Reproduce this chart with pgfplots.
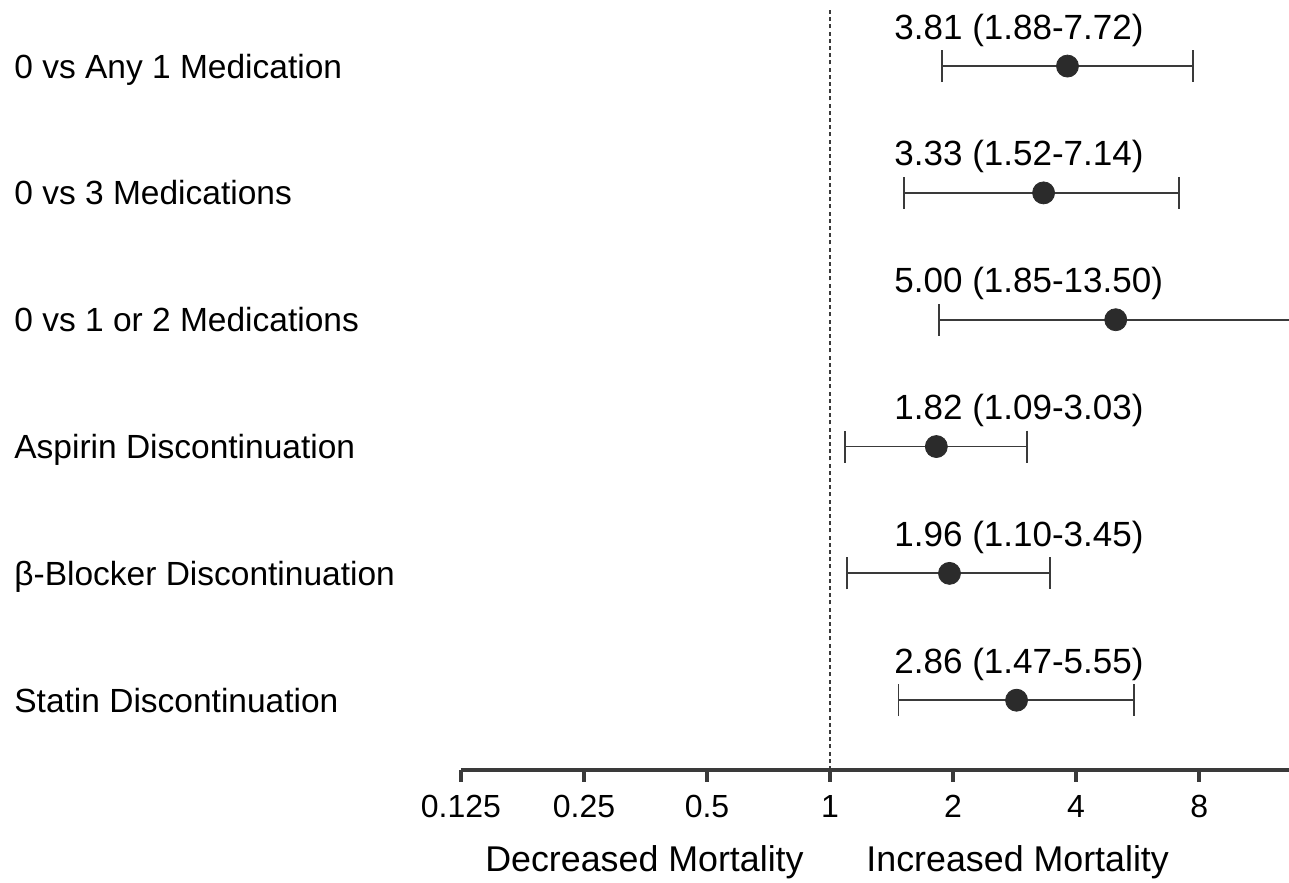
\documentclass[border=0pt]{standalone}
\usepackage{fontspec}
\setmainfont{Liberation Sans}
\usepackage{pgfplots}
\usepackage{pgfplotstable}
\pgfplotsset{compat=1.18}
\definecolor{dk}{HTML}{2B2B2B}
\definecolor{ln}{HTML}{3A3A3A}

% y = row, or = odds ratio, ep/em = distance to upper/lower CI bound
\pgfplotstableread{
y or   lo   hi    ep   em
6 3.81 1.88 7.72  3.91 1.93
5 3.33 1.52 7.14  3.81 1.81
4 5.00 1.85 13.50 8.50 3.15
3 1.82 1.09 3.03  1.21 0.73
2 1.96 1.10 3.45  1.49 0.86
1 2.86 1.47 5.55  2.69 1.39
}\forestdata

\begin{document}
\begin{tikzpicture}
\begin{axis}[
  scale only axis, width=414pt, height=380.5pt,
  xmode=log, log basis x=2,
  xmin=0.125, xmax=13.27, ymin=0.45, ymax=6.45,
  axis x line*=bottom, axis y line=none,
  x axis line style={line width=2.2pt, color=ln},
  tick align=outside,
  major tick length=6pt,
  x tick style={line width=1.9pt, color=ln},
  xtick={0.125,0.25,0.5,1,2,4,8},
  xticklabels={0.125,0.25,0.5,1,2,4,8},
  xticklabel style={font=\fontsize{16}{19}\selectfont, text=black, yshift=-3pt},
  /pgf/number format/assume math mode=true,
  ytick=\empty,
  clip mode=individual,
]
\coordinate (sw) at (rel axis cs:0,0);
\coordinate (ne) at (rel axis cs:1,1);

\addplot[dashed, dash pattern=on 2pt off 1.6pt, line width=0.7pt, color=ln] coordinates {(1,0.45) (1,6.45)};

\addplot[only marks, mark=*, mark size=5.5pt, color=dk,
  error bars/.cd, x dir=both, x explicit,
  error bar style={line width=0.9pt, color=ln},
  error mark options={rotate=90, mark size=8pt, line width=0.9pt, color=ln}]
  table[x=or, y=y, x error plus=ep, x error minus=em]{\forestdata};

\tikzset{ann/.style={anchor=base west, inner sep=0pt, font=\fontsize{17.5}{21}\selectfont}}
\node[ann] at (axis cs:1.434,6.213) {3.81 (1.88-7.72)};
\node[ann] at (axis cs:1.434,5.213) {3.33 (1.52-7.14)};
\node[ann] at (axis cs:1.434,4.213) {5.00 (1.85-13.50)};
\node[ann] at (axis cs:1.434,3.213) {1.82 (1.09-3.03)};
\node[ann] at (axis cs:1.434,2.213) {1.96 (1.10-3.45)};
\node[ann] at (axis cs:1.434,1.213) {2.86 (1.47-5.55)};

\tikzset{lab/.style={anchor=base west, inner sep=0pt, xshift=-223.5pt, yshift=-6pt, font=\fontsize{16.75}{20}\selectfont}}
\node[lab] at (axis cs:0.125,6) {0 vs Any 1 Medication};
\node[lab] at (axis cs:0.125,5) {0 vs 3 Medications};
\node[lab] at (axis cs:0.125,4) {0 vs 1 or 2 Medications};
\node[lab] at (axis cs:0.125,3) {Aspirin Discontinuation};
\node[lab] at (axis cs:0.125,2) {β-Blocker Discontinuation};
\node[lab] at (axis cs:0.125,1) {Statin Discontinuation};

\tikzset{bot/.style={inner sep=0pt, yshift=-51pt, font=\fontsize{17.9}{21}\selectfont}}
\node[bot, anchor=base east, xshift=-13pt] at (axis cs:1,0.45) {Decreased Mortality};
\node[bot, anchor=base west, xshift=18pt] at (axis cs:1,0.45) {Increased Mortality};
\end{axis}
\pgfresetboundingbox
\useasboundingbox ([xshift=-230.5pt,yshift=-56.5pt]sw) rectangle ([yshift=4.5pt]ne);
\end{tikzpicture}
\end{document}
